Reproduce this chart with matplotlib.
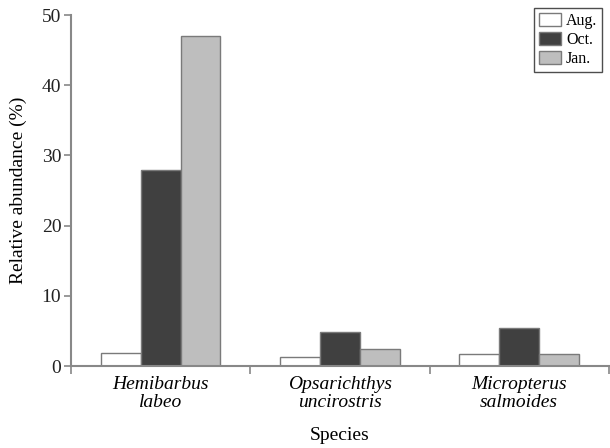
import numpy as np
import matplotlib.pyplot as plt

species = ["Hemibarbus\nlabeo", "Opsarichthys\nuncirostris", "Micropterus\nsalmoides"]
months = ["Aug.", "Oct.", "Jan."]
aug = [1.8, 1.3, 1.7]
octo = [27.9, 4.9, 5.4]
jan = [47.0, 2.4, 1.7]
colors = ["#ffffff", "#404040", "#bebebe"]

plt.rcParams["font.family"] = ["Liberation Serif", "DejaVu Serif"]

fig = plt.figure(figsize=(6.1, 4.48), dpi=100)
ax = fig.add_axes([0.1164, 0.183, 0.8816, 0.7835])

x = np.arange(len(species))
w = 0.222
for i, (vals, lab) in enumerate(zip([aug, octo, jan], months)):
    ax.bar(x + (i - 1) * w, vals, w, color=colors[i], edgecolor="#7a7a7a",
           linewidth=1.0, label=lab)

ax.set_xlim(-0.5, 2.5)
ax.set_ylim(0, 50)
ax.set_yticks([0, 10, 20, 30, 40, 50])

# boundary ticks between species, labels centred under each group
ax.set_xticks([-0.5, 0.5, 1.5, 2.5])
ax.set_xticklabels([])
ax.set_xticks(x, minor=True)
ax.set_xticklabels(species, minor=True, fontstyle="italic", fontsize=14,
                   linespacing=1.12)
ax.tick_params(axis="x", which="minor", length=0, pad=7)
ax.tick_params(axis="x", which="major", length=6, width=1.2, color="#888888")
ax.tick_params(axis="y", length=5, width=1.2, color="#888888", labelsize=14,
               labelcolor="#222222", pad=2)

for s in ["top", "right"]:
    ax.spines[s].set_visible(False)
for s in ["left", "bottom"]:
    ax.spines[s].set_color("#888888")
    ax.spines[s].set_linewidth(1.5)

ax.set_ylabel("Relative abundance (%)", fontsize=14, labelpad=10.5)
ax.set_xlabel("Species", fontsize=14, labelpad=11.5)

leg = ax.legend(loc="upper right", bbox_to_anchor=(602 / 610, 1 - 8 / 448),
                bbox_transform=fig.transFigure, fontsize=11.5, frameon=True,
                fancybox=False, edgecolor="#222222", handlelength=1.4,
                handleheight=0.85, handletextpad=0.3, labelspacing=0.2,
                borderpad=0.3, borderaxespad=0)
leg.get_frame().set_linewidth(1.0)

fig.savefig("out.png", dpi=100)
